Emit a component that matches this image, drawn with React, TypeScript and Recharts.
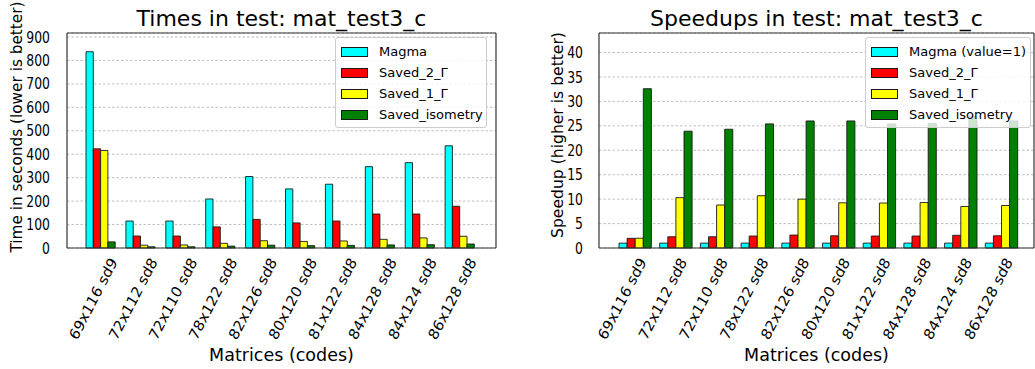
import React from 'react';
import { BarChart, Bar, XAxis, YAxis, CartesianGrid } from 'recharts';

const FONT = '"DejaVu Sans", sans-serif';

const matrices = [
  '69x116 sd9', '72x112 sd8', '72x110 sd8', '78x122 sd8', '82x126 sd8',
  '80x120 sd8', '81x122 sd8', '84x128 sd8', '84x124 sd8', '86x128 sd8',
];

// times in seconds
const timeMagma = [837, 115, 115, 209, 305, 252, 272, 347, 364, 436];
const timeSaved2 = [423, 51, 51, 90, 122, 107, 115, 145, 145, 178];
const timeSaved1 = [416, 12, 13, 20, 31, 28, 30, 37, 43, 50];
const timeIso = [26, 5, 5, 8, 12, 10, 11, 13, 14, 17];

// speedups relative to Magma
const speedMagma = [1, 1, 1, 1, 1, 1, 1, 1, 1, 1];
const speedSaved2 = [1.98, 2.3, 2.3, 2.45, 2.65, 2.5, 2.45, 2.45, 2.6, 2.5];
const speedSaved1 = [2.0, 10.3, 8.8, 10.7, 10.0, 9.25, 9.2, 9.3, 8.5, 8.7];
const speedIso = [32.6, 23.9, 24.3, 25.4, 26.0, 26.0, 25.4, 25.5, 26.9, 26.0];

const timeTicks = [0, 100, 200, 300, 400, 500, 600, 700, 800, 900];
const speedTicks = [0, 5, 10, 15, 20, 25, 30, 35, 40];

const seriesKeys = ['magma', 's2', 's1', 'iso'];
const timeNames = ['Magma', 'Saved_2_Γ', 'Saved_1_Γ', 'Saved_isometry'];
const speedNames = ['Magma (value=1)', 'Saved_2_Γ', 'Saved_1_Γ', 'Saved_isometry'];
const seriesColors = ['#00ffff', '#ff0000', '#ffff00', '#008000'];

const timeRows = matrices.map((m, i) => ({
  m, magma: timeMagma[i], s2: timeSaved2[i], s1: timeSaved1[i], iso: timeIso[i],
}));
const speedRows = matrices.map((m, i) => ({
  m, magma: speedMagma[i], s2: speedSaved2[i], s1: speedSaved1[i], iso: speedIso[i],
}));

const EDGE = '#1a1a1a';
const FRAME = '#333';
const TICK_FS = 15.5;
const Y_SQUEEZE = 0.8; // tick text in the original looks horizontally narrow
const X_SQUEEZE = 0.9;

const makeXTick = (dx: number, dy: number) => (props: any) => {
  const { x, y, payload } = props;
  return (
    <text
      transform={`translate(${x + dx},${y + dy}) scale(${X_SQUEEZE},1) rotate(-60)`}
      textAnchor="end"
      fontSize={TICK_FS}
      fontFamily={FONT}
      fill="#000"
    >
      {payload.value}
    </text>
  );
};

const YTick = (props: any) => {
  const { x, y, payload } = props;
  return (
    <text
      transform={`translate(${x},${y}) scale(${Y_SQUEEZE},1)`}
      textAnchor="end"
      dy="0.36em"
      fontSize={TICK_FS}
      fontFamily={FONT}
      fill="#000"
    >
      {payload.value}
    </text>
  );
};

const LegendBox = ({ names, left, width }: { names: string[]; left: number; width: number }) => (
  <div
    style={{
      position: 'absolute',
      left,
      top: 37,
      width,
      background: 'rgba(255,255,255,0.8)',
      border: '1px solid #cccccc',
      borderRadius: 3,
      padding: '3px 0 2px 5px',
      fontFamily: FONT,
      fontSize: 13,
      color: '#000',
      boxSizing: 'border-box',
    }}
  >
    {names.map((n, i) => (
      <div key={n} style={{ display: 'flex', alignItems: 'center', height: 21 }}>
        <span
          style={{
            display: 'inline-block',
            width: 27,
            height: 10,
            background: seriesColors[i],
            border: `1px solid ${EDGE}`,
            boxSizing: 'border-box',
            marginRight: 11,
          }}
        />
        {n}
      </div>
    ))}
  </div>
);

const renderBars = (size: number, names: string[]) =>
  seriesKeys.map((k, i) => (
    <Bar key={k} dataKey={k} name={names[i]} fill={seriesColors[i]} stroke={EDGE} strokeWidth={0.9}
      barSize={size} isAnimationActive={false} />
  ));

const axisLine = { stroke: FRAME, strokeWidth: 1.2 };

export default function App() {
  return (
    <div style={{ position: 'absolute', left: 0, top: 0, width: 1035, height: 369, background: '#fff' }}>
      <div style={{ position: 'absolute', left: 0, top: 0 }}>
        <BarChart width={517} height={369} data={timeRows} barGap={0}
          margin={{ top: 32, left: 66, right: 20, bottom: 120 }}>
          <CartesianGrid vertical={false} stroke="#b0b0b0" strokeDasharray="2.5 2" strokeWidth={0.8} />
          <XAxis dataKey="m" height={1} padding={{ left: 14, right: 16 }} tickLine={false} tickSize={0} tickMargin={0}
            interval={0} axisLine={axisLine} tick={makeXTick(17, 14)} />
          <XAxis xAxisId="top" orientation="top" dataKey="m" height={1} tick={false} tickLine={false}
            padding={{ left: 14, right: 16 }} axisLine={axisLine} />
          <YAxis width={1} domain={[0, 917]} ticks={timeTicks} tickLine={false} tickSize={0} tickMargin={17}
            axisLine={axisLine} tick={<YTick />} />
          <YAxis yAxisId="right" orientation="right" width={1} domain={[0, 917]} tick={false} tickLine={false}
            axisLine={axisLine} />
          {renderBars(7.3, timeNames)}
        </BarChart>
        <LegendBox names={timeNames} left={335} width={152} />
      </div>
      <div style={{ position: 'absolute', left: 517, top: 0 }}>
        <BarChart width={518} height={369} data={speedRows} barGap={0}
          margin={{ top: 32, left: 81, right: 0, bottom: 120 }}>
          <CartesianGrid vertical={false} stroke="#b0b0b0" strokeDasharray="2.5 2" strokeWidth={0.8} />
          <XAxis dataKey="m" height={1} padding={{ left: 16, right: 12 }} tickLine={false} tickSize={0} tickMargin={0}
            interval={0} axisLine={axisLine} tick={makeXTick(11.5, 14)} />
          <XAxis xAxisId="top" orientation="top" dataKey="m" height={1} tick={false} tickLine={false}
            padding={{ left: 16, right: 12 }} axisLine={axisLine} />
          <YAxis width={1} domain={[0, 44]} ticks={speedTicks} tickLine={false} tickSize={0} tickMargin={16}
            axisLine={axisLine} tick={<YTick />} />
          <YAxis yAxisId="right" orientation="right" width={1} domain={[0, 44]} tick={false} tickLine={false}
            axisLine={axisLine} />
          {renderBars(8.1, speedNames)}
        </BarChart>
        <LegendBox names={speedNames} left={348} width={166} />
      </div>
      <svg width={1035} height={369} style={{ position: 'absolute', left: 0, top: 0, pointerEvents: 'none' }}
        fontFamily={FONT} fill="#000">
        <text x={281.5} y={26} textAnchor="middle" fontSize={22}>Times in test: mat_test3_c</text>
        <text x={816.5} y={26} textAnchor="middle" fontSize={22}>Speedups in test: mat_test3_c</text>
        <text transform="translate(22,127) rotate(-90)" textAnchor="middle" fontSize={15.3}>Time in seconds (lower is better)</text>
        <text transform="translate(563,135) rotate(-90)" textAnchor="middle" fontSize={15.6}>Speedup (higher is better)</text>
        <text x={281.5} y={361} textAnchor="middle" fontSize={17.5}>Matrices (codes)</text>
        <text x={816.5} y={361} textAnchor="middle" fontSize={17.5}>Matrices (codes)</text>
      </svg>
    </div>
  );
}
